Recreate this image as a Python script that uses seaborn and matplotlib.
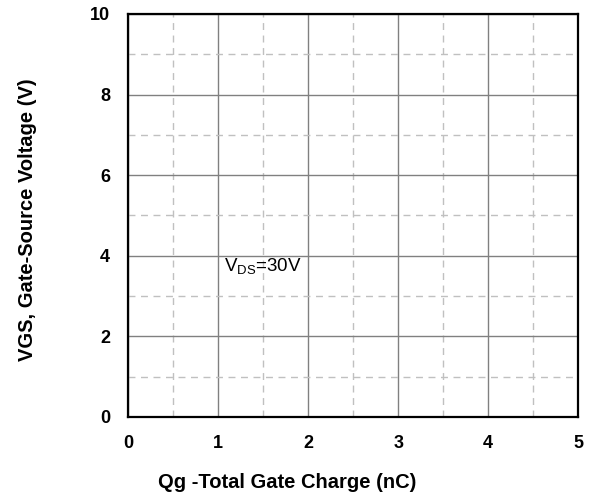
import numpy as np
import matplotlib
matplotlib.use("Agg")
import matplotlib.pyplot as plt
import seaborn as sns
from matplotlib.ticker import MultipleLocator

# axis ranges and ticks
x_ticks = [0, 1, 2, 3, 4, 5]
y_ticks = [0, 2, 4, 6, 8, 10]
x_minor_step = 0.5
y_minor_step = 1.0

# annotation
note_text = r"V$_{\mathregular{DS}}$=30V"
note_xy = (1.07, 3.6)

sns.set_style("white")
plt.rcParams["font.family"] = ["Liberation Sans", "DejaVu Sans"]
plt.rcParams["text.color"] = "black"
plt.rcParams["axes.labelcolor"] = "black"
plt.rcParams["xtick.color"] = "black"
plt.rcParams["ytick.color"] = "black"

fig = plt.figure(figsize=(5.9, 4.98), dpi=100)
ax = fig.add_axes([0.217, 0.163, 0.763, 0.809])

ax.set_xlim(x_ticks[0], x_ticks[-1])
ax.set_ylim(y_ticks[0], y_ticks[-1])
ax.set_xticks(x_ticks)
ax.set_yticks(y_ticks)
ax.xaxis.set_minor_locator(MultipleLocator(x_minor_step))
ax.yaxis.set_minor_locator(MultipleLocator(y_minor_step))

ax.grid(which="major", color="#808080", linewidth=1.0, linestyle="-")
ax.grid(which="minor", color="#c0c0c0", linewidth=1.0, linestyle=(0, (5, 4)))
ax.set_axisbelow(True)

for sp in ax.spines.values():
    sp.set_visible(True)
    sp.set_color("black")
    sp.set_linewidth(1.6)

ax.tick_params(which="both", length=0)
ax.tick_params(axis="x", pad=13, labelsize=13)
ax.tick_params(axis="y", pad=13, labelsize=13)
for lbl in ax.get_xticklabels() + ax.get_yticklabels():
    lbl.set_fontweight("bold")

ax.text(note_xy[0], note_xy[1], note_text, fontsize=13.5, color="black", va="baseline")

ax.set_ylabel("VGS, Gate-Source Voltage (V)", fontsize=14.5, fontweight="bold")
ax.set_xlabel("Qg -Total Gate Charge (nC)", fontsize=14.5, fontweight="bold")
ax.yaxis.set_label_coords(-0.202, 0.489)
ax.xaxis.set_label_coords(0.353, -0.139)

fig.savefig("out.png", dpi=100)
